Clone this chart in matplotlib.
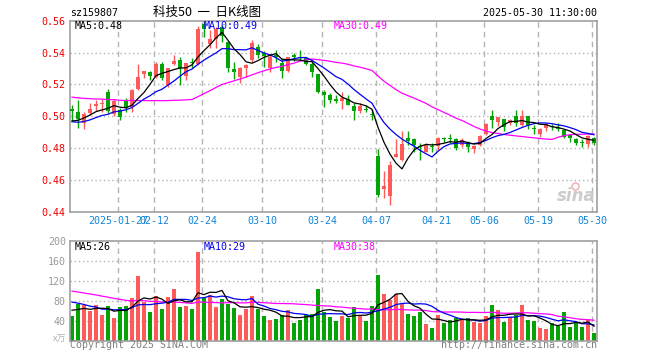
import matplotlib
matplotlib.use("Agg")
import matplotlib.pyplot as plt
import numpy as np
import pandas as pd

# ---- daily bars, 2025-01-15 .. 2025-05-30 ----
OPEN = [0.5045, 0.5025, 0.4960, 0.5023, 0.5067, 0.5077, 0.5149, 0.5015, 0.5038, 0.5100,
        0.5059, 0.5170, 0.5266, 0.5277, 0.5247, 0.5331, 0.5195, 0.5329, 0.5356, 0.5250,
        0.5338, 0.5331, 0.5580, 0.5451, 0.5486, 0.5560, 0.5464, 0.5296, 0.5249, 0.5300,
        0.5352, 0.5436, 0.5400, 0.5300, 0.5386, 0.5337, 0.5285, 0.5382, 0.5369, 0.5363,
        0.5331, 0.5262, 0.5153, 0.5132, 0.5109, 0.5094, 0.5111, 0.5065, 0.5031, 0.5048,
        0.5010, 0.4751, 0.4543, 0.4497, 0.4744, 0.4723, 0.4864, 0.4855, 0.4811, 0.4776,
        0.4813, 0.4813, 0.4862, 0.4860, 0.4855, 0.4818, 0.4828, 0.4792, 0.4822, 0.4891,
        0.5000, 0.4964, 0.4981, 0.4960, 0.5000, 0.4943, 0.5000, 0.4927, 0.4891, 0.4927,
        0.4937, 0.4927, 0.4912, 0.4881, 0.4855, 0.4839, 0.4828, 0.4864]
HIGH = [0.5070, 0.5100, 0.5027, 0.5080, 0.5100, 0.5110, 0.5174, 0.5110, 0.5050, 0.5112,
        0.5174, 0.5327, 0.5283, 0.5283, 0.5341, 0.5341, 0.5304, 0.5384, 0.5373, 0.5335,
        0.5363, 0.5565, 0.5610, 0.5541, 0.5562, 0.5575, 0.5470, 0.5338, 0.5308, 0.5325,
        0.5478, 0.5451, 0.5410, 0.5384, 0.5413, 0.5367, 0.5375, 0.5400, 0.5413, 0.5369,
        0.5342, 0.5268, 0.5164, 0.5143, 0.5132, 0.5149, 0.5132, 0.5080, 0.5080, 0.5073,
        0.5044, 0.4797, 0.4654, 0.4717, 0.4855, 0.4906, 0.4906, 0.4864, 0.4832, 0.4832,
        0.4832, 0.4870, 0.4870, 0.4889, 0.4864, 0.4864, 0.4843, 0.4820, 0.4885, 0.4960,
        0.5042, 0.4996, 0.4985, 0.4981, 0.5042, 0.5042, 0.5000, 0.4943, 0.4927, 0.4960,
        0.4950, 0.4960, 0.4922, 0.4885, 0.4864, 0.4855, 0.4885, 0.4870]
LOW = [0.4970, 0.4927, 0.4922, 0.5005, 0.5034, 0.5025, 0.5023, 0.5000, 0.4975, 0.5027,
       0.5027, 0.5164, 0.5237, 0.5226, 0.5237, 0.5226, 0.5184, 0.5321, 0.5195, 0.5226,
       0.5300, 0.5320, 0.5500, 0.5427, 0.5427, 0.5464, 0.5280, 0.5234, 0.5210, 0.5247,
       0.5340, 0.5363, 0.5310, 0.5275, 0.5340, 0.5237, 0.5277, 0.5348, 0.5350, 0.5321,
       0.5247, 0.5143, 0.5059, 0.5080, 0.5086, 0.5044, 0.5069, 0.4975, 0.5017, 0.5027,
       0.4979, 0.4493, 0.4486, 0.4440, 0.4744, 0.4719, 0.4818, 0.4778, 0.4723, 0.4772,
       0.4776, 0.4786, 0.4836, 0.4830, 0.4786, 0.4807, 0.4776, 0.4771, 0.4811, 0.4884,
       0.4927, 0.4937, 0.4906, 0.4943, 0.4937, 0.4937, 0.4918, 0.4891, 0.4870, 0.4906,
       0.4912, 0.4908, 0.4860, 0.4839, 0.4822, 0.4807, 0.4807, 0.4818]
CLOSE = [0.5030, 0.4981, 0.5013, 0.5044, 0.5075, 0.5084, 0.5034, 0.5094, 0.4996, 0.5057,
         0.5164, 0.5245, 0.5283, 0.5252, 0.5331, 0.5237, 0.5300, 0.5346, 0.5300, 0.5335,
         0.5332, 0.5548, 0.5545, 0.5484, 0.5548, 0.5507, 0.5300, 0.5280, 0.5302, 0.5321,
         0.5461, 0.5384, 0.5379, 0.5369, 0.5373, 0.5285, 0.5369, 0.5371, 0.5365, 0.5331,
         0.5279, 0.5149, 0.5136, 0.5101, 0.5098, 0.5115, 0.5073, 0.5031, 0.5065, 0.5042,
         0.5006, 0.4507, 0.4560, 0.4692, 0.4761, 0.4824, 0.4843, 0.4818, 0.4807, 0.4822,
         0.4807, 0.4860, 0.4855, 0.4857, 0.4801, 0.4849, 0.4807, 0.4813, 0.4876, 0.4954,
         0.4975, 0.4994, 0.4933, 0.4975, 0.4960, 0.5002, 0.4943, 0.4921, 0.4922, 0.4948,
         0.4933, 0.4920, 0.4870, 0.4864, 0.4834, 0.4832, 0.4876, 0.4834]
VOLUME = [49, 73, 71, 59, 71, 51, 69, 45, 68, 69,
          85, 129, 77, 57, 89, 63, 87, 103, 67, 69,
          63, 177, 85, 91, 67, 83, 73, 65, 51, 63,
          89, 63, 49, 41, 43, 51, 61, 35, 41, 51,
          53, 103, 57, 47, 39, 50, 46, 68, 51, 40,
          69, 131, 93, 81, 93, 73, 53, 49, 57, 33,
          25, 51, 36, 41, 45, 41, 45, 37, 36, 49,
          71, 61, 37, 47, 51, 71, 41, 39, 25, 23,
          35, 29, 57, 27, 35, 27, 41, 15]

# sessions before the window, only needed to seed the moving averages
PRE_CLOSE = [0.511, 0.512, 0.510, 0.513, 0.511, 0.512, 0.510, 0.512, 0.511, 0.513,
             0.527, 0.529, 0.528, 0.530, 0.527, 0.528, 0.529, 0.527, 0.528, 0.526,
             0.501, 0.497, 0.494, 0.493, 0.495, 0.496, 0.494, 0.495, 0.497]
PRE_VOLUME = [125, 128, 122, 126, 124, 127, 123, 125, 126, 124,
              95, 96, 94, 95, 97, 93, 95, 96, 94, 95,
              95, 98, 92, 90, 93, 66, 60, 68, 62]

HOLIDAYS = ["2025-01-28", "2025-01-29", "2025-01-30", "2025-01-31", "2025-02-03",
            "2025-02-04", "2025-04-04", "2025-05-01", "2025-05-02", "2025-05-05"]
TICK_DATES = ["2025-01-27", "2025-02-12", "2025-02-24", "2025-03-10", "2025-03-24",
              "2025-04-07", "2025-04-21", "2025-05-06", "2025-05-19", "2025-05-30"]

RED = "#fd5a5a"
GREEN = "#05a305"
GRID = "#b4b4b4"
SPINE = "#a0a0a0"
TICK_BLUE = "#1384d6"
MONO = "DejaVu Sans Mono"
CJK = ["Noto Sans CJK SC", "DejaVu Sans"]
FS = 7.2


def moving_avg(pre, vals, n):
    s = pd.Series(list(pre) + list(vals), dtype=float)
    return s.rolling(n, min_periods=1).mean().to_numpy()[len(pre):]


def style_axes(ax):
    for sp in ax.spines.values():
        sp.set_color(SPINE)
        sp.set_linewidth(1.2)
    ax.tick_params(length=0, pad=3)
    ax.set_facecolor("white")


def main():
    days = pd.bdate_range("2025-01-15", "2025-05-30")
    days = days[~days.isin(pd.to_datetime(HOLIDAYS))]
    x = np.arange(len(days))
    o, h, l, c = map(np.asarray, (OPEN, HIGH, LOW, CLOSE))
    v = np.asarray(VOLUME, dtype=float)
    up = c >= o
    colors = np.where(up, RED, GREEN)

    tick_idx = [int(np.where(days == pd.Timestamp(d))[0][0]) for d in TICK_DATES]
    tick_pos = np.array(tick_idx) - 0.33
    tick_lab = [TICK_DATES[0]] + [d[5:] for d in TICK_DATES[1:]]

    fig = plt.figure(figsize=(6.6, 3.6), dpi=100)
    ax = fig.add_axes([70 / 660, 1 - 211.7 / 360, 527 / 660, 191 / 360])
    axv = fig.add_axes([70 / 660, 1 - 340.7 / 360, 527 / 660, 100 / 360])
    xlim = (-0.333, 87.5)

    # ----- price panel
    style_axes(ax)
    ax.set_xlim(*xlim)
    ax.set_ylim(0.44, 0.56)
    yt = np.arange(0.44, 0.5601, 0.02)
    ax.set_yticks(yt)
    ax.set_yticklabels([f"{t:.2f}" for t in yt], color="#ee0000",
                       fontfamily=MONO, fontsize=FS)
    for t in yt[1:-1]:
        ax.axhline(t, color=GRID, lw=1, ls=(0, (1, 2)), zorder=0)
    for p in tick_pos:
        ax.axvline(p, color=GRID, lw=1, ls=(0, (4, 3)), zorder=0)
    ax.set_xticks(tick_pos)
    ax.set_xticklabels(tick_lab, color=TICK_BLUE, fontfamily=MONO, fontsize=FS)

    ax.vlines(x, l, h, colors=colors, lw=1, zorder=2)
    body = np.maximum(np.abs(c - o), 0.0006)
    ax.bar(x, body, bottom=np.minimum(o, c), width=0.78, color=colors,
           lw=0, zorder=3)

    for n, col in ((30, "#ff00ff"), (10, "#0000ee"), (5, "black")):
        ax.plot(x, moving_avg(PRE_CLOSE, c, n), color=col, lw=0.9, zorder=4)

    fig.text(75 / 660, 1 - 26 / 360, "MA5:0.48", fontfamily=MONO,
             fontsize=FS, color="black", va="center")
    fig.text(204 / 660, 1 - 26 / 360, "MA10:0.49", fontfamily=MONO,
             fontsize=FS, color="#0000ee", va="center")
    fig.text(334 / 660, 1 - 26 / 360, "MA30:0.49", fontfamily=MONO,
             fontsize=FS, color="#ff00ff", va="center")

    # sina watermark
    fig.text(596 / 660, 1 - 196 / 360, "sina", fontsize=12, fontweight="bold",
             fontstyle="italic", color="#cccccc", ha="right", va="center")
    fig.lines.append(plt.Line2D([575 / 660], [1 - 186 / 360], marker="o",
                                ms=5, mfc="none", mec="#f2b6b6", mew=1.2,
                                transform=fig.transFigure))

    # ----- volume panel
    style_axes(axv)
    axv.set_xlim(*xlim)
    axv.set_ylim(0, 200)
    vt = np.arange(40, 201, 40)
    axv.set_yticks(vt)
    axv.set_yticklabels([str(t) for t in vt], color="#9a9a9a",
                        fontfamily=MONO, fontsize=FS)
    axv.set_xticks([])
    for t in vt[:-1]:
        axv.axhline(t, color=GRID, lw=1, ls=(0, (1, 2)), zorder=0)
    for p in tick_pos:
        axv.axvline(p, color=GRID, lw=1, ls=(0, (4, 3)), zorder=0)
    axv.bar(x, v, width=0.82, color=colors, lw=0, zorder=2)
    for n, col in ((30, "#ff00ff"), (10, "#0000ee"), (5, "black")):
        axv.plot(x, moving_avg(PRE_VOLUME, v, n), color=col, lw=0.9, zorder=4)

    fig.text(75 / 660, 1 - 246.5 / 360, "MA5:26", fontfamily=MONO,
             fontsize=FS, color="black", va="center")
    fig.text(204 / 660, 1 - 246.5 / 360, "MA10:29", fontfamily=MONO,
             fontsize=FS, color="#0000ee", va="center")
    fig.text(334 / 660, 1 - 246.5 / 360, "MA30:38", fontfamily=MONO,
             fontsize=FS, color="#ff00ff", va="center")
    fig.text(66 / 660, 1 - 339 / 360, "x万", family=CJK,
             fontsize=6.5, color="#b0b0b0", ha="right", va="center")

    # ----- header / footer
    fig.text(70 / 660, 1 - 13 / 360, "sz159807", fontfamily=MONO,
             fontsize=FS, color="black", va="center")
    fig.text(207 / 660, 1 - 12 / 360, "科技50  一  日K线图", family=CJK,
             fontsize=9, color="black", ha="center", va="center")
    fig.text(597 / 660, 1 - 12.7 / 360, "2025-05-30 11:30:00", fontfamily=MONO,
             fontsize=FS, color="black", ha="right", va="center")
    fig.text(70 / 660, 1 - 345.5 / 360, "Copyright 2025 SINA.COM", fontfamily=MONO,
             fontsize=FS, color="#808080", va="center")
    fig.text(597 / 660, 1 - 345.5 / 360, "http://finance.sina.com.cn", fontfamily=MONO,
             fontsize=FS, color="#808080", ha="right", va="center")

    fig.savefig("out.png", dpi=100, facecolor="white")
    plt.close(fig)


if __name__ == "__main__":
    main()
